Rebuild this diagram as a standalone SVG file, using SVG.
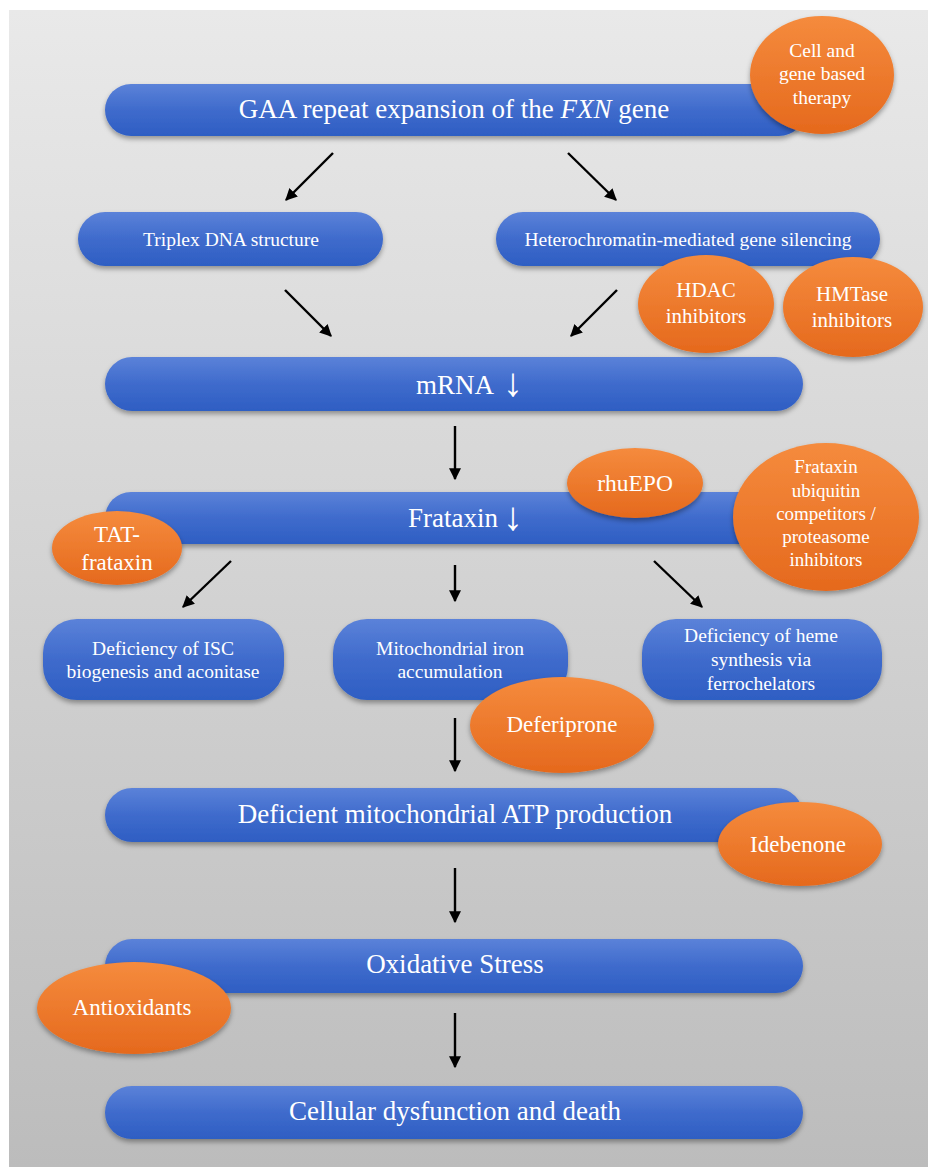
<svg xmlns="http://www.w3.org/2000/svg" width="928" height="1167" viewBox="0 0 928 1167">
<defs>
<linearGradient id="bg" x1="0" y1="0" x2="0" y2="1">
<stop offset="0" stop-color="#e9e9e9"/>
<stop offset="1" stop-color="#bcbcbc"/>
</linearGradient>
<linearGradient id="blue" x1="0" y1="0" x2="0" y2="1">
<stop offset="0" stop-color="#5b82d9"/>
<stop offset="0.5" stop-color="#3f6bcc"/>
<stop offset="1" stop-color="#2e5ec3"/>
</linearGradient>
<linearGradient id="orange" x1="0" y1="0" x2="0" y2="1">
<stop offset="0" stop-color="#f58b3d"/>
<stop offset="1" stop-color="#e5691d"/>
</linearGradient>
<filter id="sh" x="-20%" y="-30%" width="140%" height="170%">
<feDropShadow dx="0" dy="3" stdDeviation="2.5" flood-color="#000" flood-opacity="0.35"/>
</filter>
<marker id="ah" viewBox="0 0 10 10" refX="9" refY="5" markerWidth="5" markerHeight="5" orient="auto" markerUnits="strokeWidth">
<path d="M0,0 L10,5 L0,10 z" fill="#000"/>
</marker>
</defs>
<style>
.bar{fill:url(#blue);filter:url(#sh);}
.pill{fill:url(#orange);filter:url(#sh);}
.t{font-family:"Liberation Serif","Times New Roman",serif;fill:#fff;text-anchor:middle;}
.st{text-anchor:start;}
.big{font-size:27px;}
.sm{font-size:19.5px;}
.dn{font-size:40px;font-weight:bold;}
.conn line{stroke:#000;stroke-width:2.4;marker-end:url(#ah);}
</style>
<rect x="9" y="10" width="919" height="1157" fill="url(#bg)"/>

<g id="connectors" class="conn">
<line x1="333" y1="153" x2="286" y2="200"/>
<line x1="568" y1="153" x2="616" y2="200"/>
<line x1="285" y1="290" x2="331" y2="336"/>
<line x1="617" y1="290" x2="571" y2="336"/>
<line x1="455" y1="426" x2="455" y2="479"/>
<line x1="231" y1="561" x2="183" y2="607"/>
<line x1="455" y1="565" x2="455" y2="601"/>
<line x1="654" y1="561" x2="702" y2="607"/>
<line x1="455" y1="718" x2="455" y2="771"/>
<line x1="455" y1="868" x2="455" y2="922"/>
<line x1="455" y1="1013" x2="455" y2="1067"/>
</g>

<g id="n-gaa">
<rect class="bar" x="105" y="84" width="700" height="52" rx="26"/>
<text class="t big" x="454" y="118">GAA repeat expansion of the <tspan font-style="italic">FXN</tspan> gene</text>
</g>
<g id="n-triplex">
<rect class="bar" x="78" y="212" width="305" height="54" rx="27"/>
<text class="t sm" x="231" y="246">Triplex DNA structure</text>
</g>
<g id="n-hetero">
<rect class="bar" x="496" y="212" width="384" height="54" rx="27"/>
<text class="t sm" x="688" y="246">Heterochromatin-mediated gene silencing</text>
</g>
<g id="n-mrna">
<rect class="bar" x="105" y="357" width="698" height="54" rx="27"/>
<text class="t st big" x="416" y="394">mRNA<tspan class="dn" x="503" y="396">↓</tspan></text>
</g>
<g id="n-frataxin">
<rect class="bar" x="105" y="492" width="698" height="52" rx="26"/>
<text class="t st big" x="408" y="527">Frataxin<tspan class="dn" x="503" y="530">↓</tspan></text>
</g>
<g id="n-isc">
<rect class="bar" x="43" y="619" width="241" height="81" rx="34"/>
<text class="t sm" x="163" y="655">Deficiency of ISC</text>
<text class="t sm" x="163" y="678">biogenesis and aconitase</text>
</g>
<g id="n-iron">
<rect class="bar" x="333" y="619" width="235" height="81" rx="34"/>
<text class="t sm" x="450" y="655">Mitochondrial iron</text>
<text class="t sm" x="450" y="678">accumulation</text>
</g>
<g id="n-heme">
<rect class="bar" x="642" y="619" width="240" height="81" rx="34"/>
<text class="t sm" x="761" y="642">Deficiency of heme</text>
<text class="t sm" x="761" y="666">synthesis via</text>
<text class="t sm" x="761" y="690">ferrochelators</text>
</g>
<g id="n-atp">
<rect class="bar" x="105" y="788" width="698" height="54" rx="27"/>
<text class="t big" x="455" y="823">Deficient mitochondrial ATP production</text>
</g>
<g id="n-ox">
<rect class="bar" x="105" y="939" width="698" height="54" rx="27"/>
<text class="t big" x="455" y="973">Oxidative Stress</text>
</g>
<g id="n-cell">
<rect class="bar" x="105" y="1086" width="698" height="53" rx="26.5"/>
<text class="t big" x="455" y="1120">Cellular dysfunction and death</text>
</g>

<g id="t-cellgene">
<ellipse class="pill" cx="822" cy="75" rx="72" ry="59"/>
<text class="t" font-size="19.5" x="822" y="57">Cell and</text>
<text class="t" font-size="19.5" x="822" y="80">gene based</text>
<text class="t" font-size="19.5" x="822" y="104">therapy</text>
</g>
<g id="t-hdac">
<ellipse class="pill" cx="706" cy="304" rx="68" ry="49"/>
<text class="t" font-size="21" x="706" y="297">HDAC</text>
<text class="t" font-size="21" x="706" y="323">inhibitors</text>
</g>
<g id="t-hmtase">
<ellipse class="pill" cx="853" cy="307" rx="70" ry="50"/>
<text class="t" font-size="21" x="852" y="301">HMTase</text>
<text class="t" font-size="21" x="852" y="327">inhibitors</text>
</g>
<g id="t-rhuepo">
<ellipse class="pill" cx="635" cy="483" rx="68" ry="35"/>
<text class="t" font-size="23.5" x="635" y="491">rhuEPO</text>
</g>
<g id="t-ubiq">
<ellipse class="pill" cx="826" cy="517" rx="93" ry="74"/>
<text class="t" font-size="19" x="826" y="473">Frataxin</text>
<text class="t" font-size="19" x="826" y="497">ubiquitin</text>
<text class="t" font-size="19" x="826" y="520">competitors /</text>
<text class="t" font-size="19" x="826" y="543">proteasome</text>
<text class="t" font-size="19" x="826" y="566">inhibitors</text>
</g>
<g id="t-tat">
<ellipse class="pill" cx="117" cy="548" rx="65" ry="37"/>
<text class="t" font-size="23" x="117" y="542">TAT-</text>
<text class="t" font-size="23" x="117" y="570">frataxin</text>
</g>
<g id="t-deferiprone">
<ellipse class="pill" cx="562" cy="725" rx="92" ry="48"/>
<text class="t" font-size="23" x="562" y="732">Deferiprone</text>
</g>
<g id="t-idebenone">
<ellipse class="pill" cx="800" cy="844" rx="82" ry="42"/>
<text class="t" font-size="23" x="798" y="852">Idebenone</text>
</g>
<g id="t-antiox">
<ellipse class="pill" cx="134" cy="1008" rx="97" ry="46"/>
<text class="t" font-size="23" x="132" y="1015">Antioxidants</text>
</g>
</svg>
